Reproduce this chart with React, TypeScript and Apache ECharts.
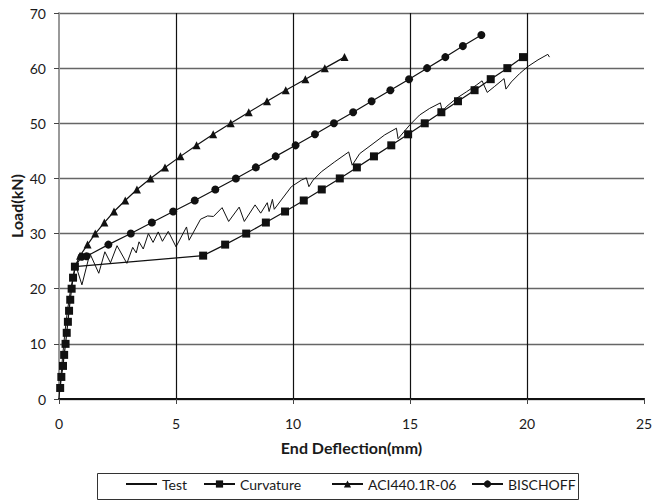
import React, { useEffect, useRef } from "react";
import * as echarts from "echarts";

const seriesNames = ["Test", "Curvature", "ACI440.1R-06", "BISCHOFF"];
const legendLeft = [125, 203, 331, 471];
const verticalGridX = [5, 10, 15, 20];

const testX = [0, 0.08, 0.16, 0.25, 0.36, 0.5, 0.72, 0.98, 1.32, 1.7, 1.96, 2.2, 2.48, 2.9, 3.15, 3.3, 3.42, 3.6, 3.82, 4.02, 4.24, 4.42, 4.67, 5.0, 5.45, 5.56, 6.05, 6.35, 6.6, 6.97, 7.25, 7.7, 7.92, 8.38, 8.62, 8.9, 8.98, 9.12, 9.2, 9.5, 9.93, 10.36, 10.57, 10.68, 10.86, 11.21, 11.78, 12.38, 12.53, 12.85, 13.42, 13.92, 14.42, 14.49, 14.99, 15.41, 15.84, 16.3, 16.38, 16.55, 16.98, 17.41, 17.83, 18.08, 18.3, 18.62, 19.02, 19.1, 19.33, 19.68, 20.04, 20.47, 20.89, 20.96];
const testY = [0, 4, 8, 12, 16, 20, 24.2, 20.7, 26.4, 22.8, 26.7, 24.7, 27.8, 24.6, 27.5, 26.5, 28.5, 27.2, 30, 28.4, 30.3, 28.6, 30.4, 27.6, 31.2, 28.8, 32.6, 33.2, 33.1, 34.7, 32.2, 34.8, 32.2, 35.2, 33.7, 35.6, 34, 36.2, 34.4, 36.1, 38.5, 39.7, 40.1, 38.5, 39.7, 41.2, 43, 44.8, 42.4, 44.5, 46.3, 47.9, 49.1, 47.2, 49.7, 51.5, 52.7, 53.7, 52.1, 53, 54.5, 55.7, 56.9, 57.7, 55.6, 56.7, 58.1, 56.2, 57.5, 59, 60.3, 61.5, 62.5, 62];

const curvatureX = [0.05, 0.1, 0.17, 0.22, 0.28, 0.33, 0.38, 0.43, 0.48, 0.54, 0.6, 0.68, 6.16, 7.1, 8.0, 8.84, 9.66, 10.46, 11.23, 12.0, 12.73, 13.46, 14.2, 14.92, 15.63, 16.34, 17.05, 17.76, 18.45, 19.16, 19.83];
const curvatureY = [2, 4, 6, 8, 10, 12, 14, 16, 18, 20, 22, 24, 26, 28, 30, 32, 34, 36, 38, 40, 42, 44, 46, 48, 50, 52, 54, 56, 58, 60, 62];

// first point of ACI and BISCHOFF is the shared cracking point (drawn without a marker)
const aciX = [0.68, 0.9, 1.22, 1.55, 1.94, 2.35, 2.83, 3.33, 3.91, 4.53, 5.19, 5.88, 6.59, 7.34, 8.11, 8.89, 9.69, 10.53, 11.36, 12.2];
const aciY = [24, 26, 28, 30, 32, 34, 36, 38, 40, 42, 44, 46, 48, 50, 52, 54, 56, 58, 60, 62];

const bischoffX = [0.68, 0.97, 1.18, 2.11, 3.07, 3.97, 4.88, 5.8, 6.68, 7.56, 8.41, 9.26, 10.11, 10.94, 11.75, 12.57, 13.36, 14.16, 14.96, 15.73, 16.51, 17.26, 18.05];
const bischoffY = [24, 25.8, 25.9, 28, 30, 32, 34, 36, 38, 40, 42, 44, 46, 48, 50, 52, 54, 56, 58, 60, 62, 64, 66];

const zip = (xs: number[], ys: number[]) => xs.map((x, i) => [x, ys[i]]);
const zipHideFirst = (xs: number[], ys: number[]) =>
  xs.map((x, i) => (i === 0 ? { value: [x, ys[i]], symbol: "none" } : [x, ys[i]]));

const FONT = "Lato";
const TXT = "#1a1a1a";

export default function App() {
  const ref = useRef<HTMLDivElement>(null);
  useEffect(() => {
    const chart = echarts.init(ref.current!, null, { renderer: "svg" });
    const lineBase = {
      type: "line",
      showSymbol: true,
      symbolSize: 7,
      lineStyle: { color: "#111", width: 1.2 },
      itemStyle: { color: "#111" },
      emphasis: { disabled: true },
    };
    chart.setOption({
      animation: false,
      backgroundColor: "#fff",
      textStyle: { fontFamily: FONT },
      grid: { left: 59, right: 8, top: 13, bottom: 105, containLabel: false, outerBoundsMode: "none" },
      legend: seriesNames.map((name, i) => ({
        data: [i === 0 ? { name, itemStyle: { opacity: 0 } } : { name }],
        left: legendLeft[i],
        top: 477,
        padding: 0,
        itemWidth: 31,
        itemHeight: 9,
        selectedMode: false,
        textStyle: { fontFamily: FONT, fontSize: 14, color: TXT },
      })),
      graphic: [
        {
          type: "rect",
          shape: { x: 97.5, y: 473.5, width: 481, height: 26 },
          style: { fill: "none", stroke: "#333", lineWidth: 1 },
          silent: true,
        },
      ],
      xAxis: [
        {
          type: "value",
          min: 0,
          max: 25,
          interval: 5,
          name: "End Deflection(mm)",
          nameLocation: "middle",
          nameGap: 40,
          nameTextStyle: { fontFamily: FONT, fontSize: 16, fontWeight: "bold", color: TXT },
          axisLine: { show: true, onZero: false, lineStyle: { color: "#999", width: 2 } },
          axisTick: { show: true, inside: false, length: 5, lineStyle: { color: "#444", width: 1 } },
          axisLabel: { fontFamily: FONT, fontSize: 14, color: TXT, margin: 17 },
          splitLine: { show: false },
        },
        {
          type: "value",
          position: "top",
          min: 0,
          max: 25,
          interval: 5,
          axisLine: { show: true, lineStyle: { color: "#111", width: 2.2 } },
          axisTick: { show: false },
          axisLabel: { show: false },
          splitLine: { show: false },
        },
      ],
      yAxis: {
        type: "value",
        min: 0,
        max: 70,
        interval: 10,
        name: "Load(kN)",
        nameLocation: "middle",
        nameGap: 35,
        nameMoveOverlap: false,
        nameTextStyle: { fontFamily: FONT, fontSize: 16, fontWeight: "bold", color: TXT },
        axisLine: { show: true, lineStyle: { color: "#999", width: 2 } },
        axisTick: { show: true, length: 5, lineStyle: { color: "#444", width: 1 } },
        axisLabel: { fontFamily: FONT, fontSize: 14, color: TXT, margin: 13 },
        splitLine: { show: true, lineStyle: { color: "#666", width: 1.3 } },
      },
      series: [
        {
          ...lineBase,
          name: seriesNames[0],
          showSymbol: false,
          symbol: "none",
          lineStyle: { color: "#111", width: 1 },
          data: zip(testX, testY),
          z: 2,
          markLine: {
            silent: true,
            symbol: "none",
            label: { show: false },
            lineStyle: { color: "#111", width: 1.2, type: "solid" },
            data: verticalGridX.map((x) => ({ xAxis: x })),
            z: 1,
          },
        },
        { ...lineBase, name: seriesNames[1], symbol: "rect", symbolSize: 8, data: zip(curvatureX, curvatureY), z: 3 },
        { ...lineBase, name: seriesNames[2], symbol: "triangle", symbolSize: 8, data: zipHideFirst(aciX, aciY), z: 4 },
        { ...lineBase, name: seriesNames[3], symbol: "circle", symbolSize: 8, data: zipHideFirst(bischoffX, bischoffY), z: 5 },
      ],
    });
    return () => chart.dispose();
  }, []);
  return <div ref={ref} style={{ position: "fixed", left: 0, top: 0, width: 652, height: 504 }} />;
}
